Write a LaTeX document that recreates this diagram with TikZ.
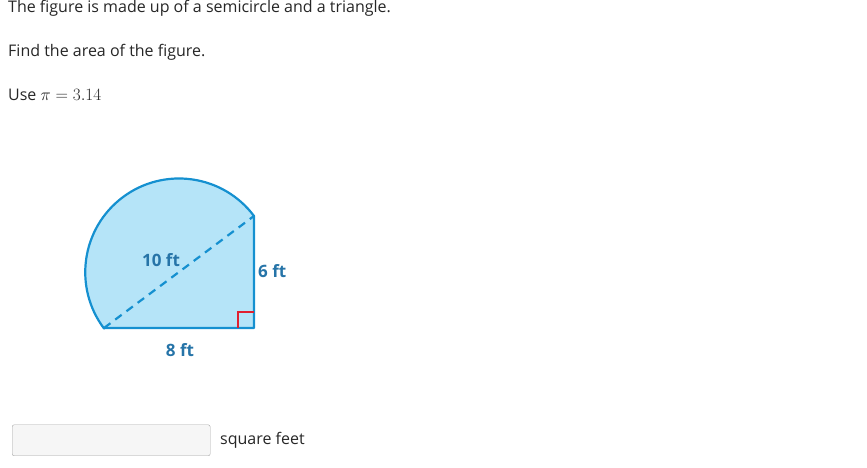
\documentclass[tikz,border=0pt]{standalone}
\usepackage{fontspec}
\setmainfont{Open Sans}
\definecolor{shapefill}{HTML}{B5E4F8}
\definecolor{shapeline}{HTML}{1590D0}
\definecolor{lblcol}{HTML}{2674A8}
\definecolor{txtcol}{HTML}{262626}
\definecolor{anglecol}{HTML}{E02030}
\def\rad{93.75pt}
\tikzset{txt/.style={anchor=base west,inner sep=0pt,text=txtcol,font=\fontsize{16}{19}\selectfont},
    lbl/.style={inner sep=0pt,text=lblcol,font=\fontsize{17}{20}\selectfont\bfseries},
    edge/.style={draw=shapeline,line width=2.2pt}}

\begin{document}
\begin{tikzpicture}[x=1pt,y=1pt]
    \useasboundingbox (0,0) rectangle (867,468);
    \node[txt] (line1) at (8,455) {The figure is made up of a semicircle and a triangle.};
    \node[txt] (line2) at (8,411) {Find the area of the figure.};
    \node[txt] (line3) at (8,367) {Use $\pi = 3.14$};
    % the shape
    \coordinate (A) at (104,140);
    \coordinate (C) at (254,140);
    \coordinate (B) at (254,252);
    \path[edge,fill=shapefill,line join=round] (A) -- (C) -- (B)
      arc[start angle=36.87,end angle=216.87,radius=\rad] -- cycle;
    \draw[shapeline,line width=2.2pt,dash pattern=on 8pt off 6pt] (A) -- (B);
    \draw[anglecol,line width=1.2pt] ([xshift=-16pt]C) -- ++(0,16) -- ++(16,0);
    \node[lbl,anchor=base] (hyp) at (161,201) {10 ft};
    \node[lbl,anchor=base west] (side) at (258,190) {6 ft};
    \node[lbl,anchor=base] (base) at (180,111) {8 ft};
    % answer box
    \node[draw=gray!70,fill=gray!7,rounded corners=2pt,minimum width=198pt,minimum height=31pt,
      anchor=south west] (ans) at (12,12) {};
    \node[txt] (unit) at (220,23) {square feet};
\end{tikzpicture}
\end{document}
